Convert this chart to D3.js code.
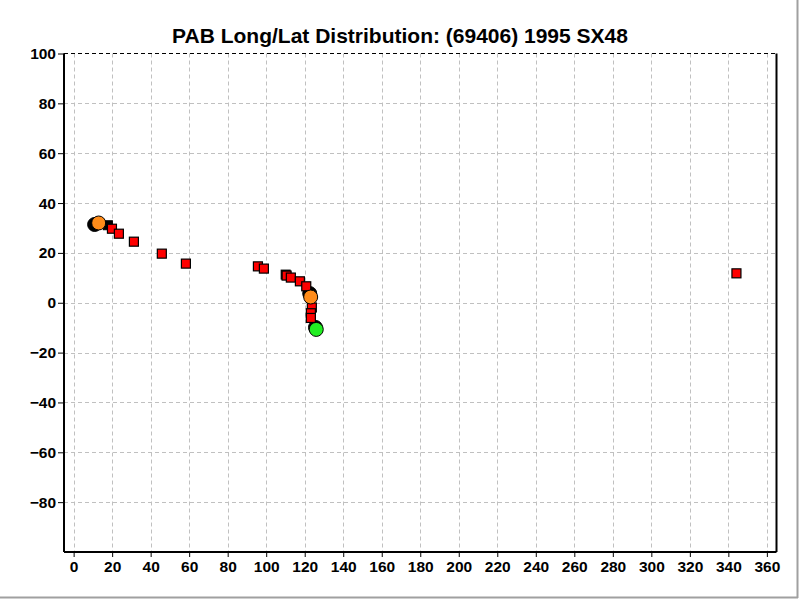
<!DOCTYPE html>
<html>
<head>
<meta charset="utf-8">
<script src="https://cdn.jsdelivr.net/npm/d3@7"></script>
<style>
  html, body { margin: 0; padding: 0; background: #fff; }
  svg { display: block; font-family: Arial, "Liberation Sans", sans-serif; }
</style>
</head>
<body>
<svg id="chart" width="800" height="600"></svg>
<script>
const title = "PAB Long/Lat Distribution: (69406) 1995 SX48";
const xTicks = [0,20,40,60,80,100,120,140,160,180,200,220,240,260,280,300,320,340,360];
const yTicks = [-80,-60,-40,-20,0,20,40,60,80,100];

// red squares (longitude, latitude)
const redLon = [19.9, 23.5, 31.3, 45.8, 58.3, 95.7, 98.8, 110.6, 112.8, 117.5, 120.8, 123.7, 123.2, 123.2, 344.2];
const redLat = [29.7, 27.7, 24.5, 19.7, 15.7, 14.6, 13.7, 10.9, 10.1, 8.6, 6.6, -1.9, -4.2, -6.1, 11.8];
// black squares
const blkSqLon = [17.8, 110.1];
const blkSqLat = [31.1, 11.3];
// black circles
const blkCircLon = [10.9, 122.6, 125.6];
const blkCircLat = [31.4, 3.7, -9.9];
// orange circles
const orangeLon = [13.0, 123.1];
const orangeLat = [32.0, 2.3];
// green circles
const greenLon = [126.0];
const greenLat = [-10.7];

(function () {
const svg = d3.select("#chart");
const pLeft = 64, pRight = 776.5, pTop = 53.5, pBottom = 552;

const x = d3.scaleLinear().domain([-5, 365]).range([pLeft, pRight]);
const y = d3.scaleLinear().domain([-100, 100]).range([pBottom, pTop]);

// window frame
svg.append("line").attr("x1", 797.5).attr("x2", 797.5).attr("y1", 0).attr("y2", 598)
  .attr("stroke", "#a0a0a0").attr("stroke-width", 2);
svg.append("line").attr("x1", 0).attr("x2", 798).attr("y1", 597.5).attr("y2", 597.5)
  .attr("stroke", "#a0a0a0").attr("stroke-width", 2);

// title
svg.append("text").attr("x", 400).attr("y", 42.5).attr("text-anchor", "middle")
  .attr("font-size", 21).attr("font-weight", "bold").attr("fill", "#000").text(title);

// grid
const grid = svg.append("g");
grid.selectAll("line.v").data(xTicks).enter().append("line")
  .attr("x1", d => Math.round(x(d)) + 0.5).attr("x2", d => Math.round(x(d)) + 0.5)
  .attr("y1", pTop).attr("y2", pBottom)
  .attr("stroke", "#c0c0c0").attr("stroke-dasharray", "4,3");
grid.selectAll("line.h").data(yTicks.filter(d => d !== 100)).enter().append("line")
  .attr("x1", pLeft).attr("x2", pRight)
  .attr("y1", d => Math.round(y(d)) + 0.5).attr("y2", d => Math.round(y(d)) + 0.5)
  .attr("stroke", "#c0c0c0").attr("stroke-dasharray", "4,3");

// frame: top dashed black, right solid
svg.append("line").attr("x1", pLeft).attr("x2", pRight).attr("y1", pTop).attr("y2", pTop)
  .attr("stroke", "#000").attr("stroke-dasharray", "4,3");
svg.append("line").attr("x1", pRight).attr("x2", pRight).attr("y1", pTop).attr("y2", pBottom)
  .attr("stroke", "#000").attr("stroke-width", 2);

// axes
const xAxis = d3.axisBottom(x).tickValues(xTicks).tickSize(5).tickSizeOuter(0).tickPadding(4);
const yAxis = d3.axisLeft(y).tickValues(yTicks).tickSize(6).tickSizeOuter(0).tickPadding(2);

const gx = svg.append("g").attr("transform", `translate(0,${pBottom})`).call(xAxis);
const gy = svg.append("g").attr("transform", `translate(${pLeft},0)`).call(yAxis);
[gx, gy].forEach(g => {
  g.select(".domain").attr("stroke", "#000").attr("stroke-width", 2);
  g.selectAll(".tick line").attr("stroke", "#000");
  g.selectAll(".tick text").attr("fill", "#000").attr("font-size", 15.5)
    .attr("font-weight", "bold").attr("font-family", "Arial, 'Liberation Sans', sans-serif");
});
gx.select(".domain").attr("d", `M${pLeft},0H${pRight}`);
gy.select(".domain").attr("d", `M0,${pTop}V${pBottom}`);

// markers
const pts = (lon, lat) => lon.map((d, i) => [d, lat[i]]);
const sq = 9;
const r = 7;
svg.append("g").selectAll("rect").data(pts(blkSqLon, blkSqLat)).enter().append("rect")
  .attr("x", d => x(d[0]) - sq / 2).attr("y", d => y(d[1]) - sq / 2)
  .attr("width", sq).attr("height", sq).attr("fill", "#000").attr("stroke", "#000");
svg.append("g").selectAll("circle").data(pts(blkCircLon, blkCircLat)).enter().append("circle")
  .attr("cx", d => x(d[0])).attr("cy", d => y(d[1])).attr("r", r)
  .attr("fill", "#000").attr("stroke", "#000");
svg.append("g").selectAll("rect").data(pts(redLon, redLat)).enter().append("rect")
  .attr("x", d => x(d[0]) - sq / 2).attr("y", d => y(d[1]) - sq / 2)
  .attr("width", sq).attr("height", sq).attr("fill", "#ff0000").attr("stroke", "#000").attr("stroke-width", 1.2);
svg.append("g").selectAll("circle").data(pts(orangeLon, orangeLat)).enter().append("circle")
  .attr("cx", d => x(d[0])).attr("cy", d => y(d[1])).attr("r", r)
  .attr("fill", "#ff8c1a").attr("stroke", "#000").attr("stroke-width", 1);
svg.append("g").selectAll("circle").data(pts(greenLon, greenLat)).enter().append("circle")
  .attr("cx", d => x(d[0])).attr("cy", d => y(d[1])).attr("r", r)
  .attr("fill", "#22ee22").attr("stroke", "#000").attr("stroke-width", 1);
})();
</script>
</body>
</html>
